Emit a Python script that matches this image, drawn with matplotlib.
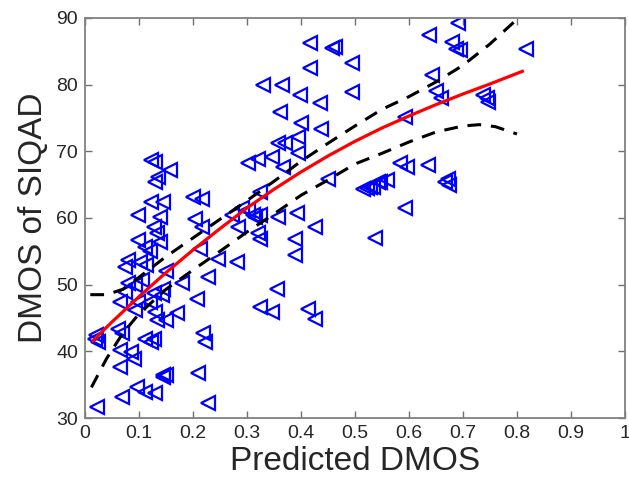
import matplotlib
matplotlib.use("Agg")
import matplotlib.pyplot as plt

# ---- data ----
pred_x = [0.123, 0.130, 0.157, 0.136, 0.130, 0.201, 0.216, 0.123, 0.145, 0.099,
          0.139, 0.204, 0.216, 0.127, 0.133, 0.139, 0.099, 0.111, 0.120, 0.080,
          0.102, 0.080, 0.093, 0.105, 0.074, 0.065, 0.099, 0.120, 0.142, 0.179,
          0.207, 0.228, 0.093, 0.130, 0.133, 0.151, 0.170, 0.019, 0.025, 0.062,
          0.068, 0.111, 0.127, 0.123, 0.065, 0.086, 0.065, 0.090, 0.096, 0.111,
          0.145, 0.151, 0.130, 0.068, 0.219, 0.222, 0.210, 0.272, 0.302, 0.315,
          0.284, 0.321, 0.324, 0.213, 0.247, 0.281, 0.358, 0.392, 0.426, 0.389,
          0.389, 0.355, 0.324, 0.346, 0.414, 0.426, 0.451, 0.515, 0.528, 0.543,
          0.302, 0.321, 0.346, 0.358, 0.370, 0.395, 0.367, 0.395, 0.438,
          0.401, 0.145, 0.127, 0.074, 0.290, 0.311, 0.324, 0.324, 0.417, 0.457,
          0.463, 0.417, 0.494, 0.330, 0.365, 0.398, 0.435, 0.494, 0.361, 0.817,
          0.687, 0.694, 0.680, 0.690, 0.637, 0.643, 0.650, 0.660, 0.737, 0.744,
          0.746, 0.593, 0.583, 0.596, 0.635, 0.672, 0.667, 0.675, 0.522, 0.533,
          0.546, 0.559, 0.593, 0.537, 0.022, 0.228, 0.144, 0.020, 0.114, 0.150]
siqad_y = [68.7, 68.4, 67.2, 66.2, 65.4, 63.2, 62.9, 62.4, 62.4, 60.4,
           60.2, 59.9, 58.7, 58.7, 57.7, 56.4, 56.7, 55.7, 55.0, 53.7,
           53.4, 50.2, 49.9, 50.7, 48.9, 47.4, 47.4, 47.4, 48.4, 50.2,
           47.9, 51.2, 46.2, 45.9, 44.7, 44.7, 45.7, 41.9, 41.4, 43.4,
           42.7, 41.9, 41.9, 41.4, 40.2, 39.9, 37.7, 38.9, 34.7, 33.9,
           36.2, 36.4, 33.7, 33.2, 42.7, 41.4, 36.7, 60.4, 61.2, 60.2,
           58.7, 57.7, 56.9, 55.4, 53.9, 53.4, 60.2, 60.7, 58.7, 56.9,
           54.4, 49.4, 46.7, 45.9, 46.4, 44.9, 65.9, 64.4, 64.7, 65.4,
           68.2, 68.9, 69.2, 71.2, 71.2, 72.2, 67.7, 69.7, 73.4,
           74.2, 49.4, 48.7, 52.7, 61.5, 60.4, 60.4, 63.9, 86.2, 85.5,
           85.7, 82.5, 83.2, 80.0, 80.0, 78.5, 77.2, 78.9, 75.9, 85.3,
           85.4, 85.2, 86.4, 89.3, 87.5, 81.5, 79.0, 78.0, 78.5, 78.0,
           77.4, 75.2, 68.2, 67.7, 68.0, 65.8, 65.4, 65.0, 64.5, 64.7,
           65.4, 65.7, 61.5, 57.0, 31.7, 32.2, 36.4, 42.4, 53.0, 52.0]

fit_x = [0.015, 0.05, 0.10, 0.15, 0.20, 0.25, 0.30, 0.35, 0.40, 0.45,
         0.50, 0.55, 0.60, 0.65, 0.70, 0.75, 0.81]
fit_y = [41.6, 44.4, 48.2, 51.8, 55.2, 58.4, 61.5, 64.3, 66.9, 69.3,
         71.5, 73.5, 75.3, 77.0, 78.6, 80.1, 82.0]

upper_x = [0.010, 0.040, 0.07, 0.10, 0.15, 0.20, 0.25, 0.30, 0.35, 0.40,
           0.45, 0.50, 0.55, 0.60, 0.65, 0.70, 0.75, 0.80, 0.815]
upper_y = [48.5, 48.5, 49.3, 51.1, 54.2, 57.0, 59.8, 62.6, 65.5, 68.5,
           71.2, 73.8, 76.3, 78.2, 80.4, 82.9, 86.1, 89.8, 91.0]

lower_x = [0.012, 0.04, 0.07, 0.10, 0.15, 0.20, 0.25, 0.30, 0.35, 0.40,
           0.45, 0.50, 0.55, 0.60, 0.65, 0.70, 0.73, 0.76, 0.80]
lower_y = [34.6, 38.9, 42.7, 45.6, 49.3, 52.2, 55.0, 57.9, 60.6, 63.4,
           65.7, 68.1, 69.7, 71.4, 72.9, 73.8, 74.0, 73.7, 72.6]

x_ticks = [0, 0.1, 0.2, 0.3, 0.4, 0.5, 0.6, 0.7, 0.8, 0.9, 1]
x_tick_labels = ["0", "0.1", "0.2", "0.3", "0.4", "0.5", "0.6", "0.7", "0.8", "0.9", "1"]
y_ticks = [30, 40, 50, 60, 70, 80, 90]

# ---- figure ----
plt.rcParams['font.family'] = ['Liberation Sans', 'DejaVu Sans']
fig = plt.figure(figsize=(6.29, 4.98), dpi=100)
ax = fig.add_axes([0.135, 0.1606, 0.8586, 0.8033])

ax.plot(pred_x, siqad_y, linestyle='none', marker='<', markersize=10.5,
        markerfacecolor='none', markeredgecolor='#0000ff', markeredgewidth=1.6)
ax.plot(fit_x, fit_y, color='#ff0000', linewidth=2.3)
ax.plot(upper_x, upper_y, color='black', linewidth=2.2, linestyle=(0, (4.5, 3.2)))
ax.plot(lower_x, lower_y, color='black', linewidth=2.2, linestyle=(0, (4.5, 3.2)))

ax.set_xlim(0, 1)
ax.set_ylim(30, 90)
ax.set_xticks(x_ticks)
ax.set_xticklabels(x_tick_labels)
ax.set_yticks(y_ticks)
ax.tick_params(direction='in', top=True, right=True, length=5, width=1,
               color='#707070', labelsize=14, labelcolor='#262626', pad=5)
for s in ax.spines.values():
    s.set_color('#808080')
    s.set_linewidth(1.3)

ax.set_xlabel('Predicted DMOS', fontsize=24, color='#262626', labelpad=3)
ax.set_ylabel('DMOS of SIQAD', fontsize=24, color='#262626', labelpad=5)

fig.savefig('out.png', dpi=100)
